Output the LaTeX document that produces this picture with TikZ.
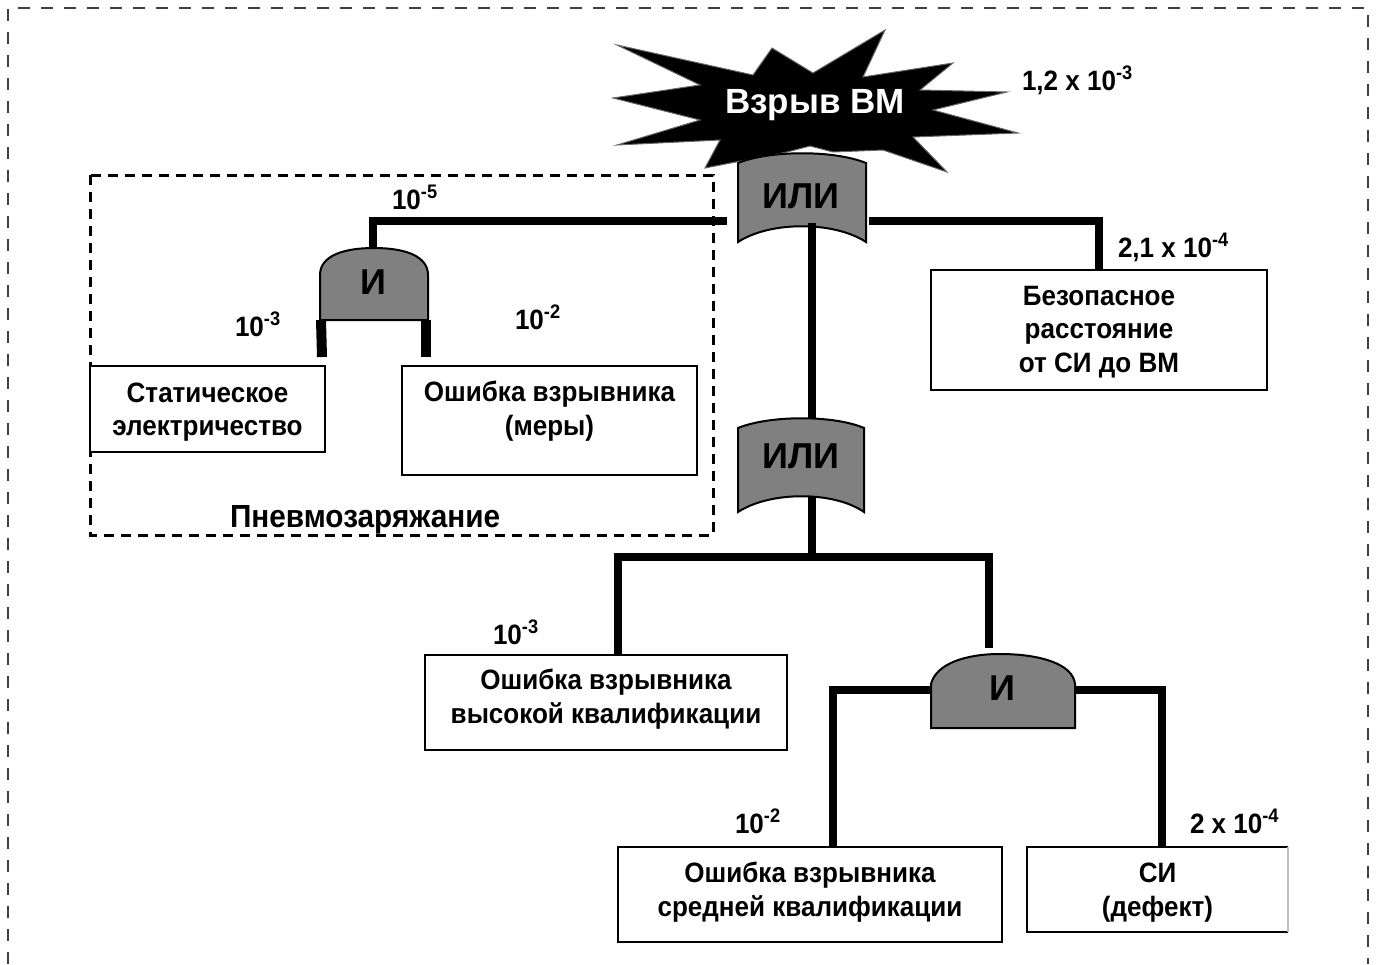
\documentclass[tikz,border=0pt]{standalone}
\usepackage{fontspec}
\setmainfont{Liberation Sans}
\newfontfamily\boxfont{Liberation Sans}[FakeStretch=0.93]
\definecolor{gateGray}{RGB}{128,128,128}
\definecolor{edgeGray}{RGB}{190,190,190}
\begin{document}
\begin{tikzpicture}[x=0.5pt,y=-0.5pt,
  every node/.style={inner sep=0pt, outer sep=0pt},
  txt/.style={font=\boxfont\bfseries\fontsize{14}{16.8}\selectfont, align=center},
  lbl/.style={font=\boxfont\bfseries\fontsize{14}{16.5}\selectfont, anchor=base west},
  frame/.style={draw, line width=1pt, fill=white},
  wire/.style={line width=4pt},
  leg/.style={line width=5pt},
  gateshape/.style={fill=gateGray, draw=black, line width=1pt},
  gatetext/.style={font=\bfseries\fontsize{18}{20}\selectfont},
  region/.style={draw, line width=1.5pt, dash pattern=on 5pt off 3.5pt},
  outer/.style={draw=black!75, line width=0.75pt, dash pattern=on 6pt off 5.5pt}
]
\useasboundingbox (0,0) rectangle (1376,964);

% outer dashed frame (open at the bottom)
\draw[outer] (8,964) -- (8,8) -- (1368,8) -- (1368,964);

% explosion burst
\filldraw[fill=black, draw=black!60, line width=0.5pt]
  (617,45) -- (753,75) -- (772,48) -- (813,73) -- (885,30) -- (863,77)
  -- (953,63) -- (920,90) -- (1007,92) -- (933,110) -- (1018,133)
  -- (913,137) -- (947,172) -- (883,150) -- (833,152) -- (810,146)
  -- (787,152) -- (705,168) -- (720,140) -- (617,145) -- (700,120)
  -- (613,98) -- (700,85) -- cycle;
\node[font=\bfseries\fontsize{17.5}{20}\selectfont, text=white] (top) at (815,105) {Взрыв ВМ};

% region of pneumatic charging
\draw[region] (90,175) rectangle (713,535);
\node[lbl, font=\boxfont\bfseries\fontsize{16}{18}\selectfont] (pnevmo) at (230,527) {Пневмозаряжание};

% event boxes
\node[frame, minimum width=117.5pt, minimum height=43pt] (stat) at (207.5,409) {};
\node[txt] at (207.5,412) {Статическое\\электричество};
\node[frame, minimum width=147.5pt, minimum height=54.5pt] (mery) at (549.5,420.5) {};
\node[txt] at (549.5,411) {Ошибка взрывника\\(меры)};
\node[frame, minimum width=168pt, minimum height=60pt] (bez) at (1099,330) {};
\node[txt] at (1099,332) {Безопасное\\расстояние\\от СИ до ВМ};
\node[frame, minimum width=181pt, minimum height=47.5pt] (high) at (606,702.5) {};
\node[txt] at (606,699) {Ошибка взрывника\\высокой квалификации};
\node[frame, minimum width=192pt, minimum height=47.5pt] (mid) at (810,894.5) {};
\node[txt] at (810,892) {Ошибка взрывника\\средней квалификации};
% defect box, right side fading
\coordinate (si-nw) at (1027,847);
\coordinate (si-se) at (1288,932);
\fill[white] (si-nw) rectangle (si-se);
\draw[line width=1pt] (1288,847) -- (si-nw) |- (si-se);
\draw[edgeGray, line width=1pt] (1288,847) -- (1288,932);
\node[txt] (si) at (1157.5,892.5) {СИ\\(дефект)};

% wires (drawn before the gates)
\coordinate (or1-l) at (727,221);
\coordinate (or1-r) at (869,221);
\coordinate (or1-b) at (812,223);
\coordinate (or2-t) at (812,420);
\coordinate (or2-b) at (812,497);
\coordinate (br) at (812,557);
\coordinate (and1-t) at (373,250);
\coordinate (and2-hook) at (989,648);
\coordinate (and2-l) at (933,690);
\coordinate (and2-r) at (1073,690);

\draw[wire] (or1-l) -- (373,221) -- (and1-t);
\draw[wire] (or1-r) -| (bez.north);
\draw[wire] (or2-b) -- (br);
\draw[wire] (high.north -| 618,0) -- (618,557) -- (989,557) -- (and2-hook);
\draw[wire] (and2-l) -| (mid.north -| 833,0);
\draw[wire] (and2-r) -| (1162,847);

% AND gate of the charging region
\draw[gateshape] (320,320) -- (320,275) .. controls (320,256) and (343,248) .. (374,248)
  .. controls (405,248) and (428,256) .. (428,275) -- (428,320) -- cycle;
\node[gatetext] (and1) at (373,282) {И};
\draw[leg] (321,320) -- (322,357);
\draw[leg] (426,320) -- (426,357);

% lower AND gate
\draw[gateshape] (931,728) -- (931,684) .. controls (936,664) and (965,654) .. (1000,654)
  .. controls (1040,654) and (1073,664) .. (1075,684) -- (1075,728) -- cycle;
\node[gatetext] (and2) at (1002,688) {И};

% OR gates
\draw[gateshape] (738,163) .. controls (770,150) and (834,150) .. (866,163)
  -- (866,242) .. controls (834,221) and (770,221) .. (738,242) -- cycle;
\node[gatetext] (or1) at (801,196) {ИЛИ};
\draw[wire] (or1-b) -- (or2-t);
\draw[gateshape] (738,428) .. controls (770,415) and (834,415) .. (864,428)
  -- (864,512) .. controls (834,491) and (770,491) .. (738,512) -- cycle;
\node[gatetext] (or2) at (801,456) {ИЛИ};

% probabilities
\node[lbl] at (1022,90) {1,2 x 10\textsuperscript{-3}};
\node[lbl] at (392,209) {10\textsuperscript{-5}};
\node[lbl] at (1118,257) {2,1 x 10\textsuperscript{-4}};
\node[lbl] at (235,336) {10\textsuperscript{-3}};
\node[lbl] at (515,329) {10\textsuperscript{-2}};
\node[lbl] at (493,644) {10\textsuperscript{-3}};
\node[lbl] at (735,833) {10\textsuperscript{-2}};
\node[lbl] at (1190,833) {2 x 10\textsuperscript{-4}};
\end{tikzpicture}
\end{document}
